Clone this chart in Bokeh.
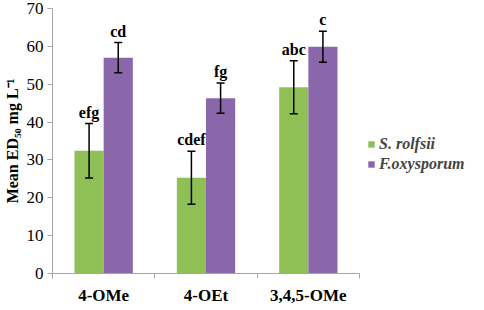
import numpy as np
from bokeh.plotting import figure
from bokeh.models import (ColumnDataSource, Range1d, FixedTicker, Whisker, Legend,
                          LegendItem, LabelSet)
from bokeh.transform import dodge
from bokeh.embed import file_html
from bokeh.resources import INLINE

categories = ["4-OMe", "4-OEt", "3,4,5-OMe"]
s_rolfsii = [32.4, 25.3, 49.2]
s_rolfsii_err = [7.2, 7.0, 7.0]
f_oxysporum = [57.0, 46.3, 59.9]
f_oxysporum_err = [4.0, 4.0, 4.1]
s_rolfsii_letters = ["efg", "cdef", "abc"]
f_oxysporum_letters = ["cd", "fg", "c"]
y_ticks = [0, 10, 20, 30, 40, 50, 60, 70]

GREEN = "#8EC056"
PURPLE = "#8A66AA"
AXIS = "#A6A6A6"
FONT = "Liberation Serif"

n = len(categories)
xpos = [i + 0.5 for i in range(n)]
src_s = ColumnDataSource(dict(x=xpos, top=s_rolfsii,
                              lower=[v - e for v, e in zip(s_rolfsii, s_rolfsii_err)],
                              upper=[v + e for v, e in zip(s_rolfsii, s_rolfsii_err)],
                              lab=s_rolfsii_letters))
src_f = ColumnDataSource(dict(x=xpos, top=f_oxysporum,
                              lower=[v - e for v, e in zip(f_oxysporum, f_oxysporum_err)],
                              upper=[v + e for v, e in zip(f_oxysporum, f_oxysporum_err)],
                              lab=f_oxysporum_letters))

axis_px = 307          # pixel length of the drawn category axis
frame_w = 421          # frame extends to the right to host the legend
p = figure(frame_width=frame_w, frame_height=265, output_backend="svg", toolbar_location=None,
           x_range=Range1d(0, n * frame_w / axis_px), y_range=Range1d(0, 70),
           min_border_left=43, min_border_right=2, min_border_top=8, min_border_bottom=21)
p.outline_line_color = None
p.xgrid.visible = False
p.ygrid.visible = False

bw = 0.285
r_s = p.vbar(x=dodge("x", -bw / 2, range=p.x_range), top="top", width=bw, bottom=0,
             source=src_s, fill_color=GREEN, line_color=None)
r_f = p.vbar(x=dodge("x", bw / 2, range=p.x_range), top="top", width=bw, bottom=0,
             source=src_f, fill_color=PURPLE, line_color=None)

for src, off in ((src_s, -bw / 2), (src_f, bw / 2)):
    w = Whisker(base=dodge("x", off, range=p.x_range), lower="lower", upper="upper",
                source=src, line_color="black", line_width=1.5, level="overlay")
    w.upper_head.size = 8
    w.lower_head.size = 8
    w.upper_head.line_width = 1.5
    w.lower_head.line_width = 1.5
    p.add_layout(w)
    ls = LabelSet(x=dodge("x", off, range=p.x_range), y="upper", text="lab", source=src,
                  text_align="center", text_baseline="bottom", y_offset=3,
                  text_font=FONT, text_font_style="bold", text_font_size="16px",
                  text_color="black")
    p.add_layout(ls)

# axes
p.yaxis.ticker = FixedTicker(ticks=y_ticks)
p.yaxis.axis_line_color = AXIS
p.yaxis.major_tick_line_color = AXIS
p.yaxis.major_tick_out = 5
p.yaxis.major_tick_in = 0
p.yaxis.minor_tick_line_color = None
p.yaxis.major_label_text_font = FONT
p.yaxis.major_label_text_font_size = "17px"
p.yaxis.major_label_text_color = "black"
p.yaxis.major_label_standoff = 4
p.yaxis.axis_label = "Mean ED\u2085\u2080 mg L\u207b\u00b9"
p.yaxis.axis_label_text_font = FONT
p.yaxis.axis_label_text_font_style = "bold"
p.yaxis.axis_label_text_font_size = "16px"
p.yaxis.axis_label_text_color = "black"
p.yaxis.axis_label_standoff = 3

p.xaxis.bounds = (0, n)
p.xaxis.ticker = FixedTicker(ticks=xpos, minor_ticks=list(range(n + 1)))
p.xaxis.major_label_overrides = {x: c for x, c in zip(xpos, categories)}
p.xaxis.axis_line_color = AXIS
p.xaxis.major_tick_line_color = None
p.xaxis.minor_tick_line_color = AXIS
p.xaxis.minor_tick_out = 5
p.xaxis.minor_tick_in = 0
p.xaxis.major_label_text_font = FONT
p.xaxis.major_label_text_font_style = "bold"
p.xaxis.major_label_text_font_size = "17px"
p.xaxis.major_label_text_color = "black"
p.xaxis.major_label_standoff = 6

legend = Legend(items=[LegendItem(label="S. rolfsii", renderers=[r_s]),
                       LegendItem(label="F.oxysporum", renderers=[r_f])],
                location=(315, 100), orientation="vertical",
                border_line_color=None, background_fill_alpha=0,
                glyph_width=8, glyph_height=8, spacing=2, margin=0, padding=10,
                label_text_font=FONT, label_text_font_style="bold italic",
                label_text_font_size="16px", label_standoff=4)
p.add_layout(legend)

open("out.html", "w").write(file_html(p, INLINE))
